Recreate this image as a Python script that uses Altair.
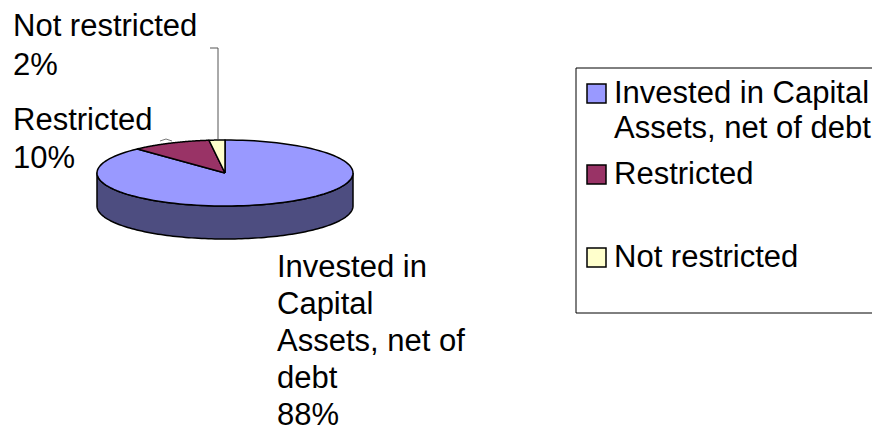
import altair as alt
import pandas as pd

# ---- data ----
categories = ["Invested in Capital Assets, net of debt", "Restricted", "Not restricted"]
values = [88, 10, 2]
top_colors = ["#9999FF", "#993366", "#FFFFCC"]
side_colors = ["#4D4D80", "#4D1A33", "#808066"]

label_lines = [
    ["Not restricted", "2%"],
    ["Restricted", "10%"],
    ["Invested in", "Capital", "Assets, net of", "debt", "88%"],
]
legend_lines = [["Invested in Capital", "Assets, net of debt"], ["Restricted"], ["Not restricted"]]

# ---- layout (chart pixel coordinates) ----
W, H = 864, 424
CX, CY, RX, RY, DEPTH = 217, 165, 128, 33, 33
N = 120
FONT = "Liberation Sans"
FS = 31

xs = alt.Scale(domain=[0, W], nice=False, zero=False)
ys = alt.Scale(domain=[0, H], nice=False, zero=False, reverse=True)

df = pd.DataFrame({"cat": categories, "value": values, "idx": list(range(len(values)))})

base = alt.Chart(df).transform_joinaggregate(total="sum(value)").transform_window(
    cum="sum(value)", sort=[alt.SortField("idx")], frame=[None, 0]
).transform_calculate(
    a0="2*PI*(datum.cum - datum.value)/datum.total",
    a1="2*PI*datum.cum/datum.total",
)

# visible front side (angles between 90deg and 270deg, clockwise from top)
side = base.transform_calculate(
    s0="max(datum.a0, PI/2)", s1="min(datum.a1, 3*PI/2)"
).transform_filter("datum.s1 > datum.s0").transform_calculate(
    k=f"sequence(0, {2 * N + 3})"
).transform_flatten(["k"]).transform_calculate(
    istop=f"datum.k <= {N} || datum.k == {2 * N + 2}",
    t=f"datum.k <= {N} ? datum.k / {N} : (datum.k <= {2 * N + 1} ? ({2 * N + 1} - datum.k) / {N} : 0)",
).transform_calculate(
    ang="datum.s0 + (datum.s1 - datum.s0) * datum.t",
).transform_calculate(
    px=f"{CX} + {RX} * sin(datum.ang)",
    py=f"{CY} - {RY} * cos(datum.ang) + (datum.istop ? 0 : {DEPTH})",
)

top = base.transform_calculate(k=f"sequence(0, {N + 3})").transform_flatten(["k"]).transform_calculate(
    ang=f"datum.a0 + (datum.a1 - datum.a0) * (datum.k - 1) / {N}",
).transform_calculate(
    px=f"(datum.k == 0 || datum.k == {N + 2}) ? {CX} : {CX} + {RX} * sin(datum.ang)",
    py=f"(datum.k == 0 || datum.k == {N + 2}) ? {CY} : {CY} - {RY} * cos(datum.ang)",
)

enc = dict(
    x=alt.X("px:Q", scale=xs, axis=None),
    y=alt.Y("py:Q", scale=ys, axis=None),
    order=alt.Order("k:Q"),
)

layers = []
for i in range(len(values)):
    layers.append(
        side.transform_filter(f"datum.idx == {i}").mark_line(
            fill=side_colors[i], stroke="black", strokeWidth=1.5, strokeJoin="round"
        ).encode(**enc)
    )
for i in range(len(values)):
    layers.append(
        top.transform_filter(f"datum.idx == {i}").mark_line(
            fill=top_colors[i], stroke="black", strokeWidth=1.5, strokeJoin="round"
        ).encode(**enc)
    )

# leader lines
leader = pd.DataFrame({"x": [202, 210, 210], "y": [40, 40, 131], "o": [0, 1, 2]})
layers.append(
    alt.Chart(leader).mark_line(color="#555555", strokeWidth=1).encode(
        x=alt.X("x:Q", scale=xs, axis=None), y=alt.Y("y:Q", scale=ys, axis=None), order="o:Q"
    )
)
leader2 = pd.DataFrame({"x": [152, 158, 164], "y": [133, 131, 133], "o": [0, 1, 2]})
layers.append(
    alt.Chart(leader2).mark_line(color="#777777", strokeWidth=1).encode(
        x=alt.X("x:Q", scale=xs, axis=None), y=alt.Y("y:Q", scale=ys, axis=None), order="o:Q"
    )
)

# data labels
label_x = [5, 5, 269]
label_y0 = [18.5, 113, 259.5]
label_lh = [39, 38, 37]
rows = []
for i, lines in enumerate(label_lines):
    for j, t in enumerate(lines):
        rows.append({"t": t, "x": label_x[i], "y": label_y0[i] + j * label_lh[i]})
labels = pd.DataFrame(rows)
layers.append(
    alt.Chart(labels).mark_text(
        align="left", baseline="middle", font=FONT, fontSize=FS, color="black"
    ).encode(x=alt.X("x:Q", scale=xs, axis=None), y=alt.Y("y:Q", scale=ys, axis=None), text="t:N")
)

# legend box: left, top and bottom edges (right edge lies beyond the page)
bx0, bx1, by0, by1 = 568, 900, 60, 305
edges = pd.DataFrame({
    "x": [bx0, bx0, bx0], "x2": [bx0, bx1, bx1],
    "y": [by0, by0, by1], "y2": [by1, by0, by1],
})
layers.append(
    alt.Chart(edges).mark_rule(color="black", strokeWidth=1).encode(
        x=alt.X("x:Q", scale=xs, axis=None), x2="x2:Q",
        y=alt.Y("y:Q", scale=ys, axis=None), y2="y2:Q",
    )
)
sq_y = [76, 157, 240]
sq = pd.DataFrame({"cat": categories, "x": [579] * 3, "x2": [598] * 3,
                   "y": sq_y, "y2": [v + 19 for v in sq_y]})
layers.append(
    alt.Chart(sq).mark_rect(stroke="black", strokeWidth=1.5).encode(
        x=alt.X("x:Q", scale=xs, axis=None), x2="x2:Q",
        y=alt.Y("y:Q", scale=ys, axis=None), y2="y2:Q",
        fill=alt.Fill("cat:N", scale=alt.Scale(domain=categories, range=top_colors), legend=None),
    )
)
leg_rows = []
leg_y0 = [86, 166.5, 249.5]
for i, lines in enumerate(legend_lines):
    for j, t in enumerate(lines):
        leg_rows.append({"t": t, "x": 606, "y": leg_y0[i] + j * 35})
leg = pd.DataFrame(leg_rows)
layers.append(
    alt.Chart(leg).mark_text(
        align="left", baseline="middle", font=FONT, fontSize=FS, color="black"
    ).encode(x=alt.X("x:Q", scale=xs, axis=None), y=alt.Y("y:Q", scale=ys, axis=None), text="t:N")
)

chart = alt.layer(*layers).properties(
    width=W, height=H, padding=0, autosize=alt.AutoSizeParams(type="none")
).configure_view(stroke=None)

chart.save("out.html", embed_options={"renderer": "svg", "actions": False})
